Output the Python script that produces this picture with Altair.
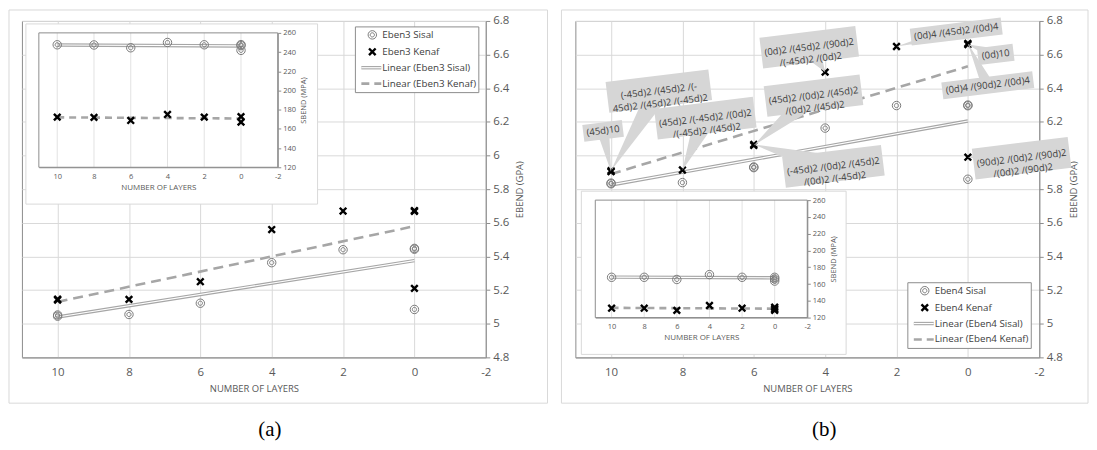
import math
import altair as alt
import pandas as pd

# ---------------- data ----------------
X_TICKS = [10, 8, 6, 4, 2, 0, -2]
EBEND_TICKS = [4.8, 5, 5.2, 5.4, 5.6, 5.8, 6, 6.2, 6.4, 6.6, 6.8]
SBEND_TICKS = [120, 140, 160, 180, 200, 220, 240, 260]
TREND_LAYERS = [10, 0]

# (a) Eben3 - main chart, EBEND (GPa)
A_SISAL_LAYERS = [10, 10, 8, 6, 4, 2, 0, 0, 0]
A_SISAL_EBEND = [5.045, 5.052, 5.055, 5.122, 5.363, 5.440, 5.443, 5.448, 5.085]
A_KENAF_LAYERS = [10, 10, 8, 6, 4, 2, 0, 0, 0]
A_KENAF_EBEND = [5.141, 5.146, 5.145, 5.250, 5.560, 5.670, 5.668, 5.673, 5.210]
A_SISAL_FIT = [5.040, 5.375]
A_KENAF_FIT = [5.130, 5.580]
# (a) inset, SBEND (MPa)
A_IN_SISAL_LAYERS = [10, 8, 6, 4, 2, 0, 0, 0]
A_IN_SISAL_SBEND = [247.6, 247.4, 244.5, 250.0, 247.6, 247.8, 246.8, 241.8]
A_IN_KENAF_LAYERS = [10, 8, 6, 4, 2, 0, 0]
A_IN_KENAF_SBEND = [172.2, 172.0, 168.8, 175.0, 172.2, 172.8, 167.0]
A_IN_SISAL_FIT = [247.4, 246.4]
A_IN_KENAF_FIT = [172.0, 170.8]

# (b) Eben4 - main chart, EBEND (GPa)
B_SISAL_LAYERS = [10, 10, 8, 6, 6, 4, 2, 0, 0, 0]
B_SISAL_EBEND = [5.832, 5.836, 5.839, 5.928, 5.932, 6.163, 6.297, 6.296, 6.300, 5.859]
B_KENAF_LAYERS = [10, 10, 8, 6, 6, 4, 2, 0, 0, 0]
B_KENAF_EBEND = [5.904, 5.910, 5.914, 6.060, 6.066, 6.496, 6.648, 6.660, 6.666, 5.990]
B_KENAF_LAYUPS = [
    "(45d)10",
    "(-45d)2 /(45d)2 /(-\n45d)2 /(45d)2 /(-45d)2",
    "(45d)2 /(-45d)2 /(0d)2\n/(-45d)2 /(45d)2",
    "(45d)2 /(0d)2 /(45d)2\n/(0d)2 /(45d)2",
    "(-45d)2 /(0d)2 /(45d)2\n/(0d)2 /(-45d)2",
    "(0d)2 /(45d)2 /(90d)2\n/(-45d)2 /(0d)2",
    "(0d)4 /(45d)2 /(0d)4",
    "(0d)10",
    "(0d)4 /(90d)2 /(0d)4",
    "(90d)2 /(0d)2 /(90d)2\n/(0d)2 /(90d)2",
]
B_SISAL_FIT = [5.825, 6.205]
B_KENAF_FIT = [5.890, 6.530]
# (b) inset, SBEND (MPa)
B_IN_SISAL_LAYERS = [10, 8, 6, 4, 2, 0, 0, 0]
B_IN_SISAL_SBEND = [168.0, 168.0, 165.4, 171.2, 168.0, 168.0, 166.0, 163.5]
B_IN_KENAF_LAYERS = [10, 8, 6, 4, 2, 0, 0, 0]
B_IN_KENAF_SBEND = [131.2, 131.2, 128.6, 134.4, 131.2, 132.4, 130.5, 128.6]
B_IN_SISAL_FIT = [168.2, 167.4]
B_IN_KENAF_FIT = [131.6, 130.6]

LEGEND_A = ["Eben3 Sisal", "Eben3 Kenaf", "Linear (Eben3 Sisal)", "Linear (Eben3 Kenaf)"]
LEGEND_B = ["Eben4 Sisal", "Eben4 Kenaf", "Linear (Eben4 Sisal)", "Linear (Eben4 Kenaf)"]
PANEL_TAGS = ["(a)", "(b)"]
X_TITLE = "NUMBER OF LAYERS"
MAIN_Y_TITLE = "EBEND (GPA)"
INSET_Y_TITLE = "SBEND (MPA)"

# ---------------- styling / layout ----------------
FONT = "Open Sans"
TXT = "#595959"
GRID = "#d9d9d9"
FRAME = "#8c8c8c"
MARK_GRAY = "#7a7a7a"
FIT_GRAY = "#a6a6a6"
CALLOUT_FILL = "#d6d6d6"
CALLOUT_TXT = "#404040"

W, H = 466, 338
X_DOMAIN = [-2, 11]
EBEND_DOMAIN = [4.8, 6.8]
SBEND_DOMAIN = [120, 260]

RING = ("M -1 0 A 1 1 0 1 0 1 0 A 1 1 0 1 0 -1 0 Z "
        "M -0.5 0 A 0.5 0.5 0 1 0 0.5 0 A 0.5 0.5 0 1 0 -0.5 0 Z")
CROSS = "M -1 -1 L 1 1 M -1 1 L 1 -1"
RING_SIZE = 72
CROSS_SIZE = 44
LABEL_EXPR = "toString(datum.value)"
ONE = pd.DataFrame({"k": [0]})

# callout box centre offset from its point (px), box width, height
CALLOUT_LAYOUT = [
    (-8, -41, 40, 17), (48, -80, 104, 31), (23, -52, 100, 31), (60, -50, 97, 31),
    (80, 22, 100, 31), (-16, -25, 97, 31), (60, -15, 92, 17), (28, 10, 36, 17),
    (20, 42, 92, 17), (54, 1, 97, 31),
]
CALLOUT_ANGLE = -7


def xy(layers, values):
    return pd.DataFrame({"layer": layers, "v": values})


def x_enc(rng=None, axis=None):
    kw = dict(domain=X_DOMAIN, reverse=True, nice=False, zero=False)
    if rng is not None:
        kw["range"] = rng
    return alt.X("layer:Q", scale=alt.Scale(**kw), axis=axis)


def y_enc(domain, rng=None, axis=None):
    kw = dict(domain=domain, nice=False, zero=False)
    if rng is not None:
        kw["range"] = rng
    return alt.Y("v:Q", scale=alt.Scale(**kw), axis=axis)


MAIN_X_AXIS = alt.Axis(
    orient="bottom", values=X_TICKS, labelExpr=LABEL_EXPR, title=X_TITLE,
    grid=True, gridColor=GRID, domainColor=FRAME, ticks=False,
    labelFontSize=11.5, labelPadding=9, titleFontSize=9.5, titlePadding=6,
)
MAIN_Y_AXIS = alt.Axis(
    orient="right", values=EBEND_TICKS, labelExpr=LABEL_EXPR, title=MAIN_Y_TITLE,
    grid=True, gridColor=GRID, domainColor=FRAME, ticks=True, tickColor=FRAME,
    tickSize=4, labelFontSize=11.5, labelPadding=3, titleFontSize=9.5,
    titleAngle=270, titleBaseline="top", titlePadding=6,
)


def inset_axes(x_off, y_off):
    ax = alt.Axis(
        orient="bottom", offset=x_off, values=X_TICKS, labelExpr=LABEL_EXPR,
        title=X_TITLE, grid=False, ticks=False, domainColor=FRAME,
        labelFontSize=7.5, labelPadding=5, titleFontSize=8, titlePadding=4, zindex=1,
    )
    ay = alt.Axis(
        orient="right", offset=y_off, values=SBEND_TICKS, labelExpr=LABEL_EXPR,
        title=INSET_Y_TITLE, grid=False, ticks=True, tickSize=3, tickColor=FRAME,
        domainColor=FRAME, labelFontSize=7.5, labelPadding=2, titleFontSize=7.5,
        titleAngle=270, titleBaseline="top", titlePadding=4, zindex=1,
    )
    return ax, ay


def series(df_s, df_k, fit_s, fit_k, ex, ey, dash):
    fs = xy(TREND_LAYERS, fit_s)
    fk = xy(TREND_LAYERS, fit_k)
    return [
        alt.Chart(fs).mark_line(color=FIT_GRAY, strokeWidth=3.4).encode(x=ex, y=ey),
        alt.Chart(fs).mark_line(color="white", strokeWidth=1.2).encode(x=ex, y=ey),
        alt.Chart(fk).mark_line(color=FIT_GRAY, strokeWidth=2.6, strokeDash=dash).encode(x=ex, y=ey),
        alt.Chart(df_s).mark_point(shape=RING, filled=False, color=MARK_GRAY, strokeWidth=1,
                                   size=RING_SIZE, opacity=1).encode(x=ex, y=ey),
        alt.Chart(df_k).mark_point(shape=CROSS, filled=False, color="black", strokeWidth=2.4,
                                   size=CROSS_SIZE, opacity=1).encode(x=ex, y=ey),
    ]


def vrect(x0, x1, y0, y1, **mark):
    return alt.Chart(ONE).mark_rect(**mark).encode(
        x=alt.value(x0), x2=alt.value(x1), y=alt.value(y0), y2=alt.value(y1))


def legend(x0, y0, labels):
    rows = [8, 25, 41, 57]
    out = [
        vrect(x0, x0 + 124, y0, y0 + 66, fill="white", stroke=FRAME, strokeWidth=1),
        alt.Chart(ONE).mark_point(shape=RING, filled=False, color=MARK_GRAY, strokeWidth=1,
                                  size=RING_SIZE, opacity=1).encode(
            x=alt.value(x0 + 17), y=alt.value(y0 + rows[0])),
        alt.Chart(ONE).mark_point(shape=CROSS, filled=False, color="black", strokeWidth=2.4,
                                  size=CROSS_SIZE, opacity=1).encode(
            x=alt.value(x0 + 17), y=alt.value(y0 + rows[1])),
        alt.Chart(ONE).mark_rule(color=FIT_GRAY, strokeWidth=3.4).encode(
            x=alt.value(x0 + 6), x2=alt.value(x0 + 26), y=alt.value(y0 + rows[2])),
        alt.Chart(ONE).mark_rule(color="white", strokeWidth=1.2).encode(
            x=alt.value(x0 + 6), x2=alt.value(x0 + 26), y=alt.value(y0 + rows[2])),
        alt.Chart(ONE).mark_rule(color=FIT_GRAY, strokeWidth=2.6, strokeDash=[8, 5]).encode(
            x=alt.value(x0 + 6), x2=alt.value(x0 + 26), y=alt.value(y0 + rows[3])),
    ]
    for r, lab in zip(rows, labels):
        out.append(alt.Chart(ONE).mark_text(align="left", baseline="middle", fontSize=9.8,
                                            color=CALLOUT_TXT, font=FONT).encode(
            x=alt.value(x0 + 27), y=alt.value(y0 + r), text=alt.value(lab)))
    return out


def callout_path(ox, oy, w, h, ang):
    a = math.radians(ang)
    c, s = math.cos(a), math.sin(a)

    def rot(px, py):
        return (ox + px * c - py * s, oy + px * s + py * c)

    rect = [rot(-w / 2, -h / 2), rot(w / 2, -h / 2), rot(w / 2, h / 2), rot(-w / 2, h / 2)]
    d = math.hypot(ox, oy)
    ux, uy = ox / d, oy / d
    bh = min(w, h) * 0.36
    tri = [(0.0, 0.0), (ox - uy * bh, oy + ux * bh), (ox + uy * bh, oy - ux * bh)]

    def area(p):
        n = len(p)
        return sum(p[i][0] * p[(i + 1) % n][1] - p[(i + 1) % n][0] * p[i][1] for i in range(n))

    if (area(rect) > 0) != (area(tri) > 0):
        tri = tri[::-1]

    def sub(p):
        return "M " + " L ".join(f"{x:.2f} {y:.2f}" for x, y in p) + " Z"

    return sub(rect) + " " + sub(tri)


def callouts(layers, values, texts, ex, ey):
    paths = [callout_path(o[0], o[1], o[2], o[3], CALLOUT_ANGLE) for o in CALLOUT_LAYOUT]
    df = pd.DataFrame({"layer": layers, "v": values, "path": paths, "label": texts})
    out = [alt.Chart(df).mark_point(filled=True, color=CALLOUT_FILL, size=4, opacity=1,
                                    strokeWidth=0).encode(
        x=ex, y=ey, shape=alt.Shape("path:N", scale=None, legend=None))]
    a = math.radians(CALLOUT_ANGLE)
    c, s = math.cos(a), math.sin(a)
    for i, (ox, oy, _w, _h) in enumerate(CALLOUT_LAYOUT):
        dx = ox * c + oy * s
        dy = -ox * s + oy * c
        out.append(alt.Chart(df.iloc[[i]]).mark_text(
            align="center", baseline="middle", lineBreak="\n", lineHeight=12.5,
            fontSize=9.6, font=FONT, color=CALLOUT_TXT, angle=360 + CALLOUT_ANGLE,
            dx=dx, dy=dy).encode(x=ex, y=ey, text="label:N"))
    return out


def panel(cfg):
    ex = x_enc(axis=MAIN_X_AXIS)
    ey = y_enc(EBEND_DOMAIN, axis=MAIN_Y_AXIS)
    fx0, fx1, fy0, fy1 = cfg["frame"]
    main = alt.layer(
        vrect(fx0, fx1, fy0, fy1, fillOpacity=0, stroke=GRID, strokeWidth=1),
        *series(xy(*cfg["sisal"]), xy(*cfg["kenaf"]), cfg["sisal_fit"], cfg["kenaf_fit"],
                ex, ey, [10, 6]),
    )

    ax, ay = inset_axes(cfg["in_y"][0] - H, cfg["in_x"][1] - W)
    ix = x_enc(rng=cfg["in_x"], axis=ax)
    iy = y_enc(SBEND_DOMAIN, rng=cfg["in_y"], axis=ay)
    bx0, bx1, by0, by1 = cfg["in_box"]
    grid_df = pd.DataFrame({"layer": X_TICKS, "v": [SBEND_DOMAIN[0]] * len(X_TICKS),
                            "v2": [SBEND_DOMAIN[1]] * len(X_TICKS)})
    frame_df = pd.DataFrame({"layer": [X_DOMAIN[1]], "layer2": [X_DOMAIN[0]],
                             "v": [SBEND_DOMAIN[0]], "v2": [SBEND_DOMAIN[1]]})
    inset = alt.layer(
        vrect(bx0, bx1, by0, by1, fill="white", stroke=GRID, strokeWidth=1),
        alt.Chart(grid_df).mark_rule(color="#e2e2e2", strokeWidth=1).encode(
            x=ix, y=iy, y2="v2:Q"),
        alt.Chart(frame_df).mark_rect(fillOpacity=0, stroke=FRAME, strokeWidth=1).encode(
            x=ix, x2="layer2:Q", y=iy, y2="v2:Q"),
        *series(xy(*cfg["in_sisal"]), xy(*cfg["in_kenaf"]), cfg["in_sisal_fit"],
                cfg["in_kenaf_fit"], ix, iy, [7, 5]),
    )

    ox_ = x_enc()
    oy_ = y_enc(EBEND_DOMAIN)
    over = []
    if cfg.get("callouts"):
        over += callouts(*cfg["callouts"], ox_, oy_)
    over += legend(cfg["legend"][0], cfg["legend"][1], cfg["legend_labels"])
    over.append(alt.Chart(ONE).mark_text(font="Liberation Serif", fontSize=21, color="black",
                                         align="center", baseline="middle").encode(
        x=alt.value(cfg["tag_x"]), y=alt.value(411), text=alt.value(cfg["tag"])))
    overlay = alt.layer(*over)

    return alt.layer(main, inset, overlay).resolve_scale(
        x="independent", y="independent").properties(width=W, height=H)


cfg_a = dict(
    frame=(-13, 528, -11, 384),
    sisal=(A_SISAL_LAYERS, A_SISAL_EBEND), kenaf=(A_KENAF_LAYERS, A_KENAF_EBEND),
    sisal_fit=A_SISAL_FIT, kenaf_fit=A_KENAF_FIT,
    in_box=(4, 297, 3, 184), in_x=[17, 257], in_y=[147, 12],
    in_sisal=(A_IN_SISAL_LAYERS, A_IN_SISAL_SBEND), in_kenaf=(A_IN_KENAF_LAYERS, A_IN_KENAF_SBEND),
    in_sisal_fit=A_IN_SISAL_FIT, in_kenaf_fit=A_IN_KENAF_FIT,
    legend=(335, 6), legend_labels=LEGEND_A, tag=PANEL_TAGS[0], tag_x=249,
)
cfg_b = dict(
    frame=(-14, 515, -11, 384),
    sisal=(B_SISAL_LAYERS, B_SISAL_EBEND), kenaf=(B_KENAF_LAYERS, B_KENAF_EBEND),
    sisal_fit=B_SISAL_FIT, kenaf_fit=B_KENAF_FIT,
    in_box=(6, 272, 171, 335), in_x=[20, 233], in_y=[298, 180],
    in_sisal=(B_IN_SISAL_LAYERS, B_IN_SISAL_SBEND), in_kenaf=(B_IN_KENAF_LAYERS, B_IN_KENAF_SBEND),
    in_sisal_fit=B_IN_SISAL_FIT, in_kenaf_fit=B_IN_KENAF_FIT,
    callouts=(B_KENAF_LAYERS, B_KENAF_EBEND, B_KENAF_LAYUPS),
    legend=(334, 263), legend_labels=LEGEND_B, tag=PANEL_TAGS[1], tag_x=250,
)

chart = alt.hconcat(panel(cfg_a), panel(cfg_b), spacing=12).properties(
    padding=0
).configure_view(stroke=FRAME, strokeWidth=1).configure_axis(
    labelFont=FONT, titleFont=FONT, labelColor=TXT, titleColor=TXT,
    titleFontWeight="normal", labelFlush=False, labelOverlap=False,
).configure_text(font=FONT)

chart.save("out.html", embed_options={"renderer": "svg", "actions": False})
